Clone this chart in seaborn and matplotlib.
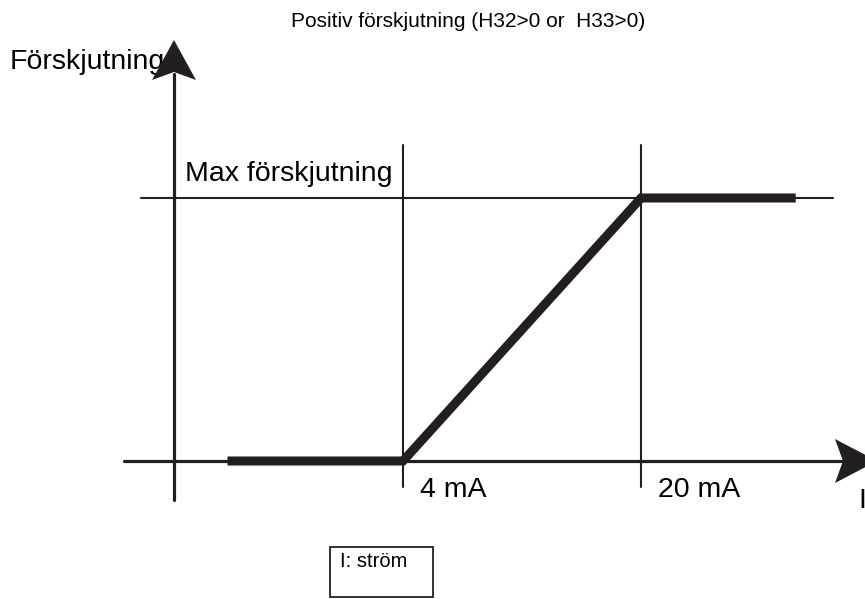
import seaborn as sns
import matplotlib.pyplot as plt
import matplotlib.patches as mpatches
import pandas as pd
import numpy as np

# data (schematic: current in mA, shift as fraction of max)
current_ma = [-7.8, 4, 20, 30.4]
shift = [0, 0, 1, 1]
tick_ma = [4, 20]
tick_labels = ["4 mA", "20 mA"]
title = "Positiv förskjutning (H32>0 or  H33>0)"
y_label = "Förskjutning"
x_label = "I"
max_label = "Max förskjutning"
legend_text = "I: ström"

df = pd.DataFrame({"current": current_ma, "shift": shift})

sns.set_theme(style="white")
plt.rcParams['font.family'] = ['Liberation Sans', 'DejaVu Sans']

ink = '#231f20'

# pixel -> data helpers for the decoration (axes, arrows, labels)
def px2x(px):
    return 4 + (px - 403) / 14.875

def py2y(py):
    return (461 - py) / 263

fig = plt.figure(figsize=(8.65, 5.99), dpi=100)
ax = fig.add_axes([0, 0, 1, 1])
ax.set_xlim(px2x(0), px2x(865))
ax.set_ylim(py2y(599), py2y(0))
ax.axis('off')

# axes with arrows
ax.plot([px2x(174), px2x(174)], [py2y(500), py2y(74)], color=ink, lw=2.3, zorder=3)
ax.plot([px2x(124), px2x(845)], [0, 0], color=ink, lw=2.3, zorder=3)
yarrow = [(174, 40), (196, 80), (174, 72), (152, 80)]
xarrow = [(877, 461), (835, 483), (843, 461), (835, 439)]
for pts in (yarrow, xarrow):
    ax.add_patch(mpatches.Polygon([(px2x(a), py2y(b)) for a, b in pts],
                                  closed=True, color=ink, lw=0, zorder=4))

# max line and marker lines
ax.plot([px2x(141), px2x(833)], [1, 1], color=ink, lw=1.5, zorder=2)
for m in tick_ma:
    ax.plot([m, m], [py2y(487), py2y(145)], color=ink, lw=1.5, zorder=2)

# characteristic
sns.lineplot(data=df, x="current", y="shift", ax=ax, color=ink, lw=6.5,
             solid_capstyle='butt', solid_joinstyle='miter', zorder=5)

# texts
for m, lab in zip(tick_ma, tick_labels):
    ax.text(m + (17 / 14.875), py2y(497), lab, fontsize=20.5, color='black',
            ha='left', va='baseline')
ax.text(px2x(185), py2y(181), max_label, fontsize=20.5, color='black',
        ha='left', va='baseline')
ax.text(px2x(10), py2y(69), y_label, fontsize=20.5, color='black',
        ha='left', va='baseline', zorder=1)
ax.text(px2x(858), py2y(508), x_label, fontsize=20.5, color='black',
        ha='left', va='baseline')
ax.text(px2x(468), py2y(27), title, fontsize=15, color='black',
        ha='center', va='baseline')

# box
ax.add_patch(mpatches.Rectangle((px2x(330), py2y(597)), (433 - 330) / 14.875, 50 / 263,
                                fill=False, edgecolor=ink, lw=1.3, zorder=2))
ax.text(px2x(340), py2y(567), legend_text, fontsize=14.5, color='black',
        ha='left', va='baseline')

if ax.get_legend():
    ax.get_legend().remove()
fig.savefig('out.png', dpi=100)
